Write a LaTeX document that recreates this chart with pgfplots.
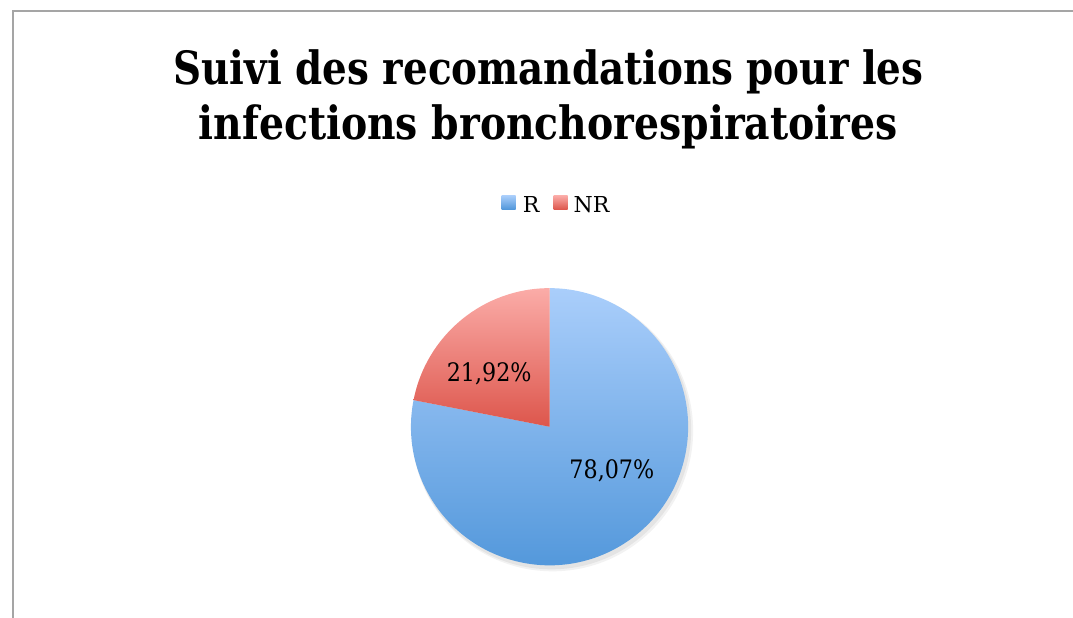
\documentclass[border=0pt]{standalone}
\usepackage{pgfplots}
\pgfplotsset{compat=1.18}
\usepackage{pgfplotstable}
\usepackage{graphicx}
\usepackage{fontspec}
\setmainfont{DejaVu Serif}
\definecolor{blueTop}{RGB}{170,206,251}
\definecolor{blueBot}{RGB}{80,150,218}
\definecolor{redTop}{RGB}{251,172,168}
\definecolor{redBot}{RGB}{221,86,76}
\definecolor{frameGray}{RGB}{165,165,165}
\pgfplotstableread{
label value
R 78.07
NR 21.92
}\piedata
\begin{document}
\pgfplotstablegetelem{0}{value}\of\piedata \let\vR\pgfplotsretval
\pgfplotstablegetelem{1}{value}\of\piedata \let\vNR\pgfplotsretval
\pgfmathsetmacro\aNR{90+360*\vNR/(\vR+\vNR)}
\begin{tikzpicture}
\useasboundingbox (0,0) rectangle (1073pt,619pt);
\begin{axis}[at={(0,0)},anchor=south west,width=1073pt,height=619pt,
  scale only axis,xmin=0,xmax=1073,ymin=0,ymax=619,hide axis,clip=false]
% frame
\draw[frameGray,line width=2pt] (axis cs:9.5,-2) -- (axis cs:9.5,607.5) -- (axis cs:1075,607.5);
% title
\node[anchor=base,font={\fontsize{46}{50}\selectfont\bfseries},inner sep=0pt] at (axis cs:547,534) {\resizebox{752pt}{\height}{Suivi des recomandations pour les}};
\node[anchor=base,font={\fontsize{46}{50}\selectfont\bfseries},inner sep=0pt] at (axis cs:546.5,479) {\resizebox{701pt}{\height}{infections bronchorespiratoires}};
% legend
\shade[top color=blueTop,bottom color=blueBot] (axis cs:500,409) rectangle (axis cs:514,423);
\node[anchor=base west,inner sep=0pt,font={\fontsize{22}{26}\selectfont}] at (axis cs:521,406) {R};
\shade[top color=redTop,bottom color=redBot] (axis cs:552,409) rectangle (axis cs:566,423);
\node[anchor=base west,inner sep=0pt,font={\fontsize{22}{26}\selectfont}] at (axis cs:572,406) {NR};
% shadow
\fill[black,opacity=0.05] (axis cs:551,187) circle[radius=141pt];
\fill[black,opacity=0.06] (axis cs:550,188) circle[radius=140pt];
% slices
\shade[top color=blueTop,bottom color=blueBot] (axis cs:548,191) -- ++(\aNR:139pt) arc[start angle=\aNR,end angle=450,radius=139pt] -- cycle;
\shade[top color=redTop,bottom color=redBot] (axis cs:548,191) -- ++(90:139pt) arc[start angle=90,end angle=\aNR,radius=139pt] -- cycle;
% labels
\node[anchor=base,inner sep=0pt,font={\fontsize{25.5}{28}\selectfont}] at (axis cs:487.5,236) {\resizebox{85pt}{\height}{21,92\%}};
\node[anchor=base,inner sep=0pt,font={\fontsize{25.5}{28}\selectfont}] at (axis cs:610.5,139) {\resizebox{85pt}{\height}{78,07\%}};
\end{axis}
\end{tikzpicture}
\end{document}
